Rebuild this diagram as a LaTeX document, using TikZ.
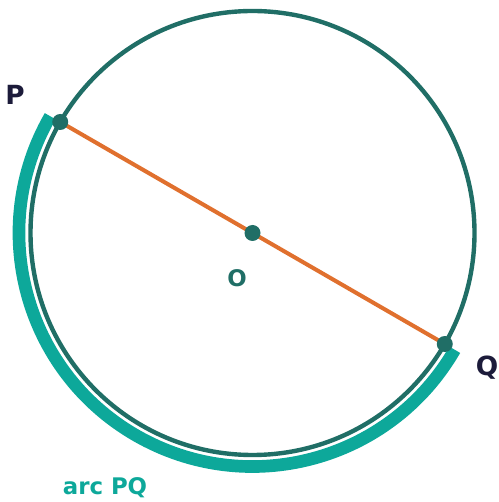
\documentclass[tikz,border=0pt]{standalone}
\usepackage{fontspec}
\setmainfont{DejaVu Sans}
\usetikzlibrary{backgrounds}
\definecolor{circlegreen}{HTML}{206E66}
\definecolor{arcteal}{HTML}{0DA89A}
\definecolor{diamorange}{HTML}{E0702E}
\definecolor{labelnavy}{HTML}{1C1B3A}

\begin{document}
\begin{tikzpicture}[x=0.02cm, y=0.02cm,
    dot/.style={circle, fill=circlegreen, inner sep=0pt, minimum size=0.32cm},
    lbl/.style={font=\fontsize{15}{17}\selectfont\bfseries, text=labelnavy},
    rim/.style={draw=circlegreen, line width=2.5pt},
    arcmark/.style={draw=arcteal, line width=7.2pt},
    diam/.style={draw=diamorange, line width=2.3pt},
]
\useasboundingbox (-252.5,-269) rectangle (245.5,233);

% Circle and marked arc
\draw[rim] (0,0) circle[radius=222];
\draw[arcmark] (150:233.5) arc[start angle=150, end angle=330, radius=233.5];

% Points
\node[dot] (O) at (0,0) {};
\node[dot] (P) at (150:222) {};
\node[dot] (Q) at (330:222) {};

% Diameter
\begin{scope}[on background layer]
\draw[diam] (P.center) -- (Q.center);
\end{scope}

% Labels
\node[lbl] (labP) at (-237.5,138) {P};
\node[lbl] (labQ) at (234.5,-135) {Q};
\node[font=\fontsize{13}{15}\selectfont\bfseries, text=circlegreen] (labO) at (-15.5,-45) {O};
\node[font=\fontsize{13}{15}\selectfont\bfseries, text=arcteal] (labarc) at (-147.5,-255) {arc PQ};
\end{tikzpicture}
\end{document}
